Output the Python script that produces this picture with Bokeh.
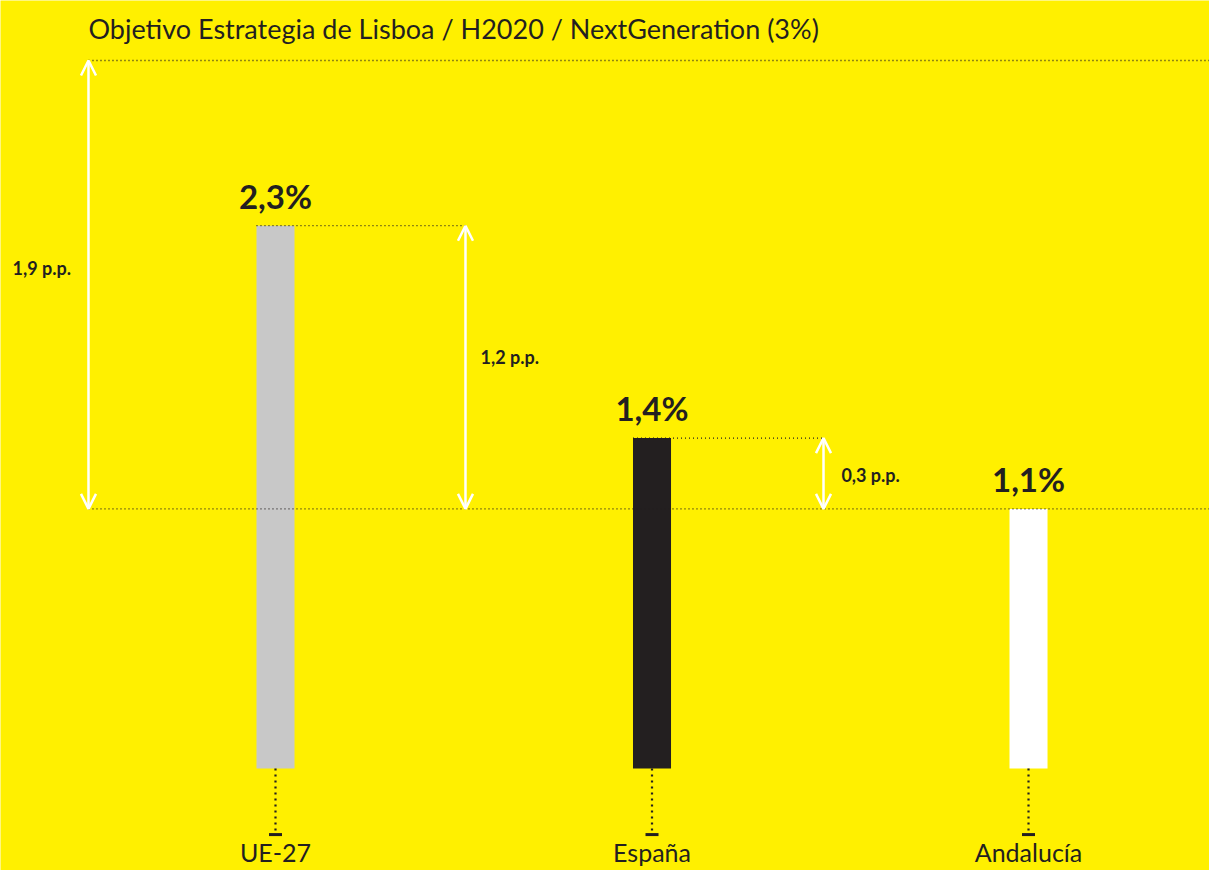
from bokeh.plotting import figure
from bokeh.models import Range1d, Arrow, OpenHead, ColumnDataSource
from bokeh.core.properties import value
from bokeh.embed import file_html
from bokeh.resources import INLINE

# ---- data ----
categories = ["UE-27", "España", "Andalucía"]
values = [2.3, 1.4, 1.1]
value_labels = ["2,3%", "1,4%", "1,1%"]
bar_colors = ["#C8C8C8", "#231F20", "#FFFFFF"]
target = 3.0
title_text = "Objetivo Estrategia de Lisboa / H2020 / NextGeneration (3%)"
gap_labels = ["1,9 p.p.", "1,2 p.p.", "0,3 p.p."]
gap_from = [3.0, 2.3, 1.4]
gap_to = [1.1, 1.1, 1.1]

BG = "#FFF000"
DARK = "#231F20"
FONT = "Lato"

W, H = 1209, 870
p = figure(width=W, height=H, output_backend="svg", toolbar_location=None,
           x_range=Range1d(-0.7304, 2.4807), y_range=Range1d(-0.4322, 3.2542),
           min_border=0, background_fill_color=BG, border_fill_color=BG,
           outline_line_color=None)
p.axis.visible = False
p.grid.visible = False

xs = list(range(len(categories)))
src = ColumnDataSource(dict(x=xs, top=values, color=bar_colors, lab=value_labels, cat=categories))

# bars
p.vbar(x="x", top="top", bottom=0, width=0.101, fill_color="color", line_color=None, source=src)

# value labels
p.text(x="x", y="top", text="lab", source=src, text_align="center", text_baseline="middle",
       y_offset=-30, text_font=value(FONT), text_font_style="bold",
       text_font_size="33px", text_color=DARK)

# dotted reference lines
bw = 0.101 / 2
arrow_x = [-0.4967, 0.5046, 1.4555]
p.segment(x0=[arrow_x[0], xs[0] - bw, xs[1] - bw, arrow_x[0]],
          x1=[2.4807, arrow_x[1], arrow_x[2], 2.4807],
          y0=[target, values[0], values[1], values[2]],
          y1=[target, values[0], values[1], values[2]],
          line_color=DARK, line_width=1.3, line_dash="1 3")

# gap arrows
for ax, a, b in zip(arrow_x, gap_from, gap_to):
    p.add_layout(Arrow(x_start=ax, y_start=b, x_end=ax, y_end=a,
                       start=OpenHead(size=15, line_color="white", line_width=2.5),
                       end=OpenHead(size=15, line_color="white", line_width=2.5),
                       line_color="white", line_width=2.5))

# gap labels
p.text(x=[-0.6985, 0.5445, 1.503], y=[2.119, 1.742, 1.242], text=gap_labels,
       text_align="left", text_baseline="middle", text_font=value(FONT),
       text_font_style="bold", text_font_size="18px", text_color=DARK)

# bottom dotted stems and dashes
p.segment(x0=xs, x1=xs, y0=[0] * 3, y1=[-0.263] * 3, line_color=DARK,
          line_width=2.2, line_dash="2 4")
p.scatter(x=xs, y=[-0.28] * 3, marker="dash", size=13, line_color=DARK, line_width=3)

# category labels
p.text(x="x", y=-0.352, text="cat", source=src, text_align="center", text_baseline="middle",
       text_font=value(FONT), text_font_size="25px", text_color=DARK)

# title
p.text(x=[-0.4967], y=[3.136], text=[title_text], text_align="left", text_baseline="middle",
       text_font=value(FONT), text_font_size="27px", text_color=DARK)

open("out.html", "w").write(file_html(p, INLINE))
